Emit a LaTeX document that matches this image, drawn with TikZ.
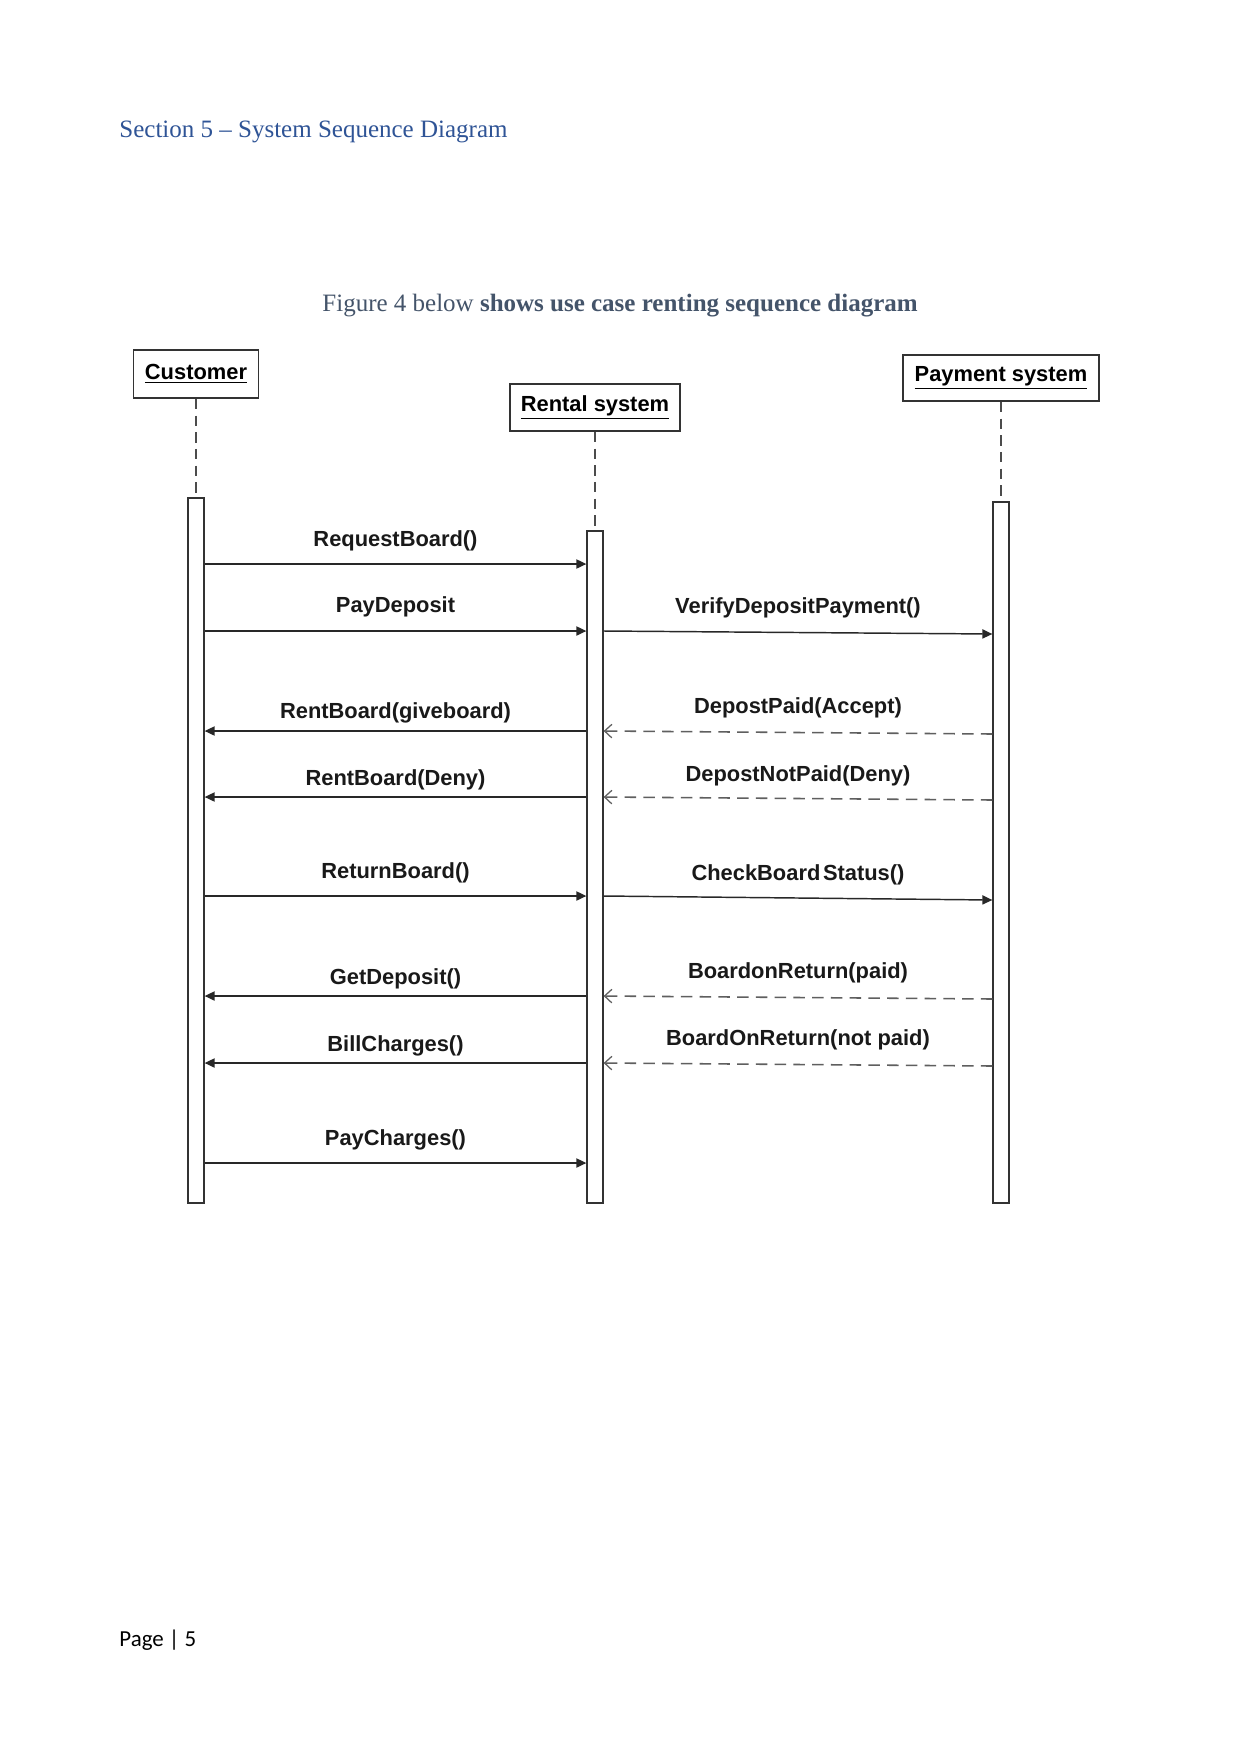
\documentclass[tikz,border=0pt]{standalone}
\usepackage{fontspec}
\setmainfont{Liberation Serif}
\newfontfamily\diagfont{Liberation Sans}
\newfontfamily\footfont{Carlito}
\usetikzlibrary{arrows.meta}
\definecolor{headblue}{RGB}{47,84,150}
\definecolor{capgray}{RGB}{68,84,106}
\definecolor{lineg}{RGB}{40,40,40}
\definecolor{dashg}{RGB}{95,95,95}
\begin{document}
\begin{tikzpicture}[x=0.48pt,y=-0.48pt,
 actor/.style={draw=black!80,line width=0.9pt,fill=white,inner sep=0pt,font=\diagfont\bfseries\fontsize{10.5}{12}\selectfont},
 actbar/.style={draw=black!80,line width=0.8pt,fill=white,minimum width=7.5pt,inner sep=0pt},
 life/.style={draw=black!70,line width=0.8pt,dash pattern=on 5pt off 3pt},
 msg/.style={draw=lineg,line width=0.7pt,-{Triangle[length=4.8pt,width=4.4pt]}},
 ret/.style={draw=dashg,line width=0.75pt,dash pattern=on 5.5pt off 3.5pt,-{Straight Barb[length=3.5pt,width=6.5pt,line width=0.6pt]}},
 lbl/.style={font=\diagfont\bfseries\fontsize{10.5}{12}\selectfont,anchor=base,inner sep=0pt,text=black!90}
]
\useasboundingbox[fill=white] (0,0) rectangle (1241,1754);

\node[anchor=base west,text=headblue,font=\fontsize{12}{14}\selectfont,inner sep=0pt] (title) at (119,137) {Section 5 – System Sequence Diagram};
\node[anchor=base west,text=capgray,font=\fontsize{12}{14}\selectfont,inner sep=0pt] (cap) at (322,311) {Figure 4 below \textbf{shows use case renting sequence diagram}};
\node[anchor=base west,font=\footfont\fontsize{11}{13}\selectfont,inner sep=0pt] (foot) at (119,1646) {Page | 5};

% actors
\node[actor,minimum width=60pt,minimum height=23pt] (cust) at (196,374) {\underline{Customer}};
\node[actor,minimum width=82pt,minimum height=22.6pt] (rent) at (595,407.5) {\underline{Rental system}};
\node[actor,minimum width=94pt,minimum height=22pt] (pay) at (1001,378) {\underline{Payment system}};

% activation bars
\node[actbar,minimum height=338.4pt] (custA) at (196,850.5) {};
\node[actbar,minimum height=322.6pt] (rentA) at (595,867) {};
\node[actbar,minimum height=336.5pt] (payA) at (1001,852.5) {};

% lifelines
\draw[life] (cust.south) -- (custA.north);
\draw[life] (rent.south) -- (rentA.north);
\draw[life] (pay.south) -- (payA.north);

% message rows
\foreach \n/\y in {a/564,b/631,b2/634,c/731,c2/734,d/797,d2/800,e/896,e2/900,f/996,f2/999,g/1063,g2/1066,h/1163}
  \coordinate (r\n) at (0,\y);

\draw[msg] (custA.east |- ra) -- node[lbl,yshift=8.6pt]{RequestBoard()} (rentA.west |- ra);
\draw[msg] (custA.east |- rb) -- node[lbl,yshift=9pt]{PayDeposit} (rentA.west |- rb);
\draw[msg] (rentA.east |- rb) -- node[lbl,yshift=8.9pt]{VerifyDepositPayment()} (payA.west |- rb2);
\draw[msg] (rentA.west |- rc) -- node[lbl,yshift=5.8pt]{RentBoard(giveboard)} (custA.east |- rc);
\draw[ret] (payA.west |- rc2) -- node[lbl,yshift=8.9pt]{DepostPaid(Accept)} (rentA.east |- rc);
\draw[msg] (rentA.west |- rd) -- node[lbl,yshift=5.3pt]{RentBoard(Deny)} (custA.east |- rd);
\draw[ret] (payA.west |- rd2) -- node[lbl,yshift=8.4pt]{DepostNotPaid(Deny)} (rentA.east |- rd);
\draw[msg] (custA.east |- re) -- node[lbl,yshift=8.2pt]{ReturnBoard()} (rentA.west |- re);
\draw[msg] (rentA.east |- re) -- node[lbl,yshift=8.2pt]{CheckBoard\hspace{0.12em}Status()} (payA.west |- re2);
\draw[msg] (rentA.west |- rf) -- node[lbl,yshift=5.3pt]{GetDeposit()} (custA.east |- rf);
\draw[ret] (payA.west |- rf2) -- node[lbl,yshift=8.9pt]{BoardonReturn(paid)} (rentA.east |- rf);
\draw[msg] (rentA.west |- rg) -- node[lbl,yshift=5.3pt]{BillCharges()} (custA.east |- rg);
\draw[ret] (payA.west |- rg2) -- node[lbl,yshift=8.9pt]{BoardOnReturn(not paid)} (rentA.east |- rg);
\draw[msg] (custA.east |- rh) -- node[lbl,yshift=8.6pt]{PayCharges()} (rentA.west |- rh);
\end{tikzpicture}
\end{document}
